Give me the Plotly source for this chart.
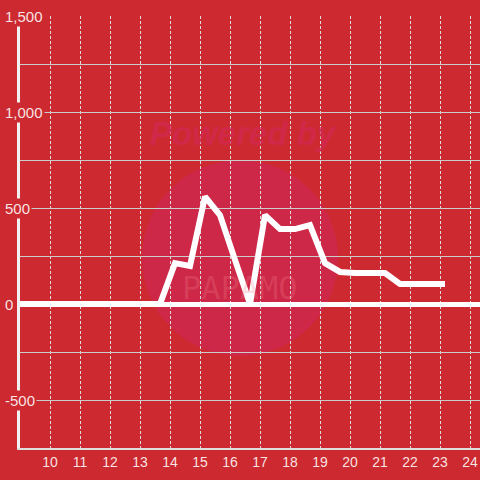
import plotly.graph_objects as go

# readings every 30 min (time of day) and the value at each
times = ["08:40", "09:10", "09:40", "10:10", "10:40", "11:10", "11:40",
         "12:10", "12:40", "13:10", "13:40", "14:10", "14:40", "15:10",
         "15:40", "16:10", "16:40", "17:10", "17:40", "18:10", "18:40",
         "19:10", "19:40", "20:10", "20:40", "21:10", "21:40", "22:10",
         "22:40", "23:10"]
values = [0, 0, 0, 0, 0, 0, 0, 0, 0, 0, 0, 213, 198, 559, 463, 230, 0,
          463, 390, 390, 411, 213, 167, 161, 161, 161, 104, 104, 104, 104]

x_ticks = [10, 11, 12, 13, 14, 15, 16, 17, 18, 19, 20, 21, 22, 23, 24]
y_ticks = [1500, 1000, 500, 0, -500]

BG = "#CC2A30"
LABEL = "rgba(255,255,255,0.88)"

hours = [int(t[:2]) + int(t[3:]) / 60 for t in times]

fig = go.Figure()
fig.add_trace(go.Scatter(
    x=hours, y=values, mode="lines",
    line=dict(color="white", width=6),
    hoverinfo="skip", showlegend=False
))

# plot area in pixels: left 20, right 480, top 16, bottom 448
pw, ph = 460, 432

# watermark
fig.add_shape(type="circle", xref="paper", yref="paper", layer="below",
              x0=(142 - 20) / pw, x1=(338 - 20) / pw,
              y0=(448 - 356) / ph, y1=(448 - 160) / ph,
              fillcolor="#CD2848", line_width=0)
fig.add_annotation(text="<b><i>Powered by</i></b>", xref="paper", yref="paper",
                   x=(243 - 20) / pw, y=(448 - 133) / ph, yanchor="middle",
                   showarrow=False,
                   font=dict(family="Liberation Sans", size=33,
                             color="rgba(212,40,85,0.7)"))
fig.add_annotation(text="PAPAMO", xref="paper", yref="paper",
                   x=(240 - 20) / pw, y=(448 - 288) / ph, yanchor="middle",
                   showarrow=False,
                   font=dict(family="DejaVu Sans Mono", size=32,
                             color="rgba(245,130,140,0.25)"))

# y labels with a box over the axis line
for v in y_ticks:
    fig.add_annotation(text=f"{v:,}", xref="paper", yref="y",
                       x=-17 / pw, y=v, xanchor="left", yanchor="middle",
                       showarrow=False, bgcolor=BG, borderpad=1,
                       font=dict(family="Liberation Sans", size=15, color=LABEL))

fig.update_layout(
    width=480, height=480,
    paper_bgcolor=BG, plot_bgcolor=BG,
    margin=dict(l=20, r=0, t=16, b=32),
    xaxis=dict(
        range=[9, 24.333], tickvals=x_ticks, ticktext=[str(h) for h in x_ticks],
        showgrid=True, gridcolor="#dddddd", gridwidth=1, griddash="3px,2px",
        showline=True, linecolor="#dddddd", linewidth=2,
        zeroline=False, ticks="",
        tickfont=dict(family="Liberation Sans", size=14, color=LABEL),
    ),
    yaxis=dict(
        range=[-750, 1500], dtick=250, showticklabels=False,
        showgrid=True, gridcolor="#cccccc", gridwidth=1,
        zeroline=True, zerolinecolor="white", zerolinewidth=5,
        showline=True, linecolor="#f0f0f0", linewidth=3,
    ),
)

fig.write_html("out.html", config={"displayModeBar": False},
               post_script="document.body.style.margin='0';"
                           "document.body.style.background='" + BG + "';")
